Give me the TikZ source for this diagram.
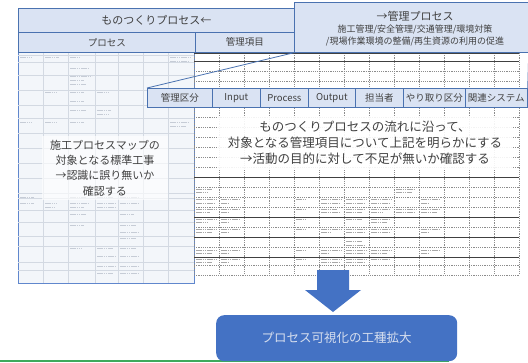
\documentclass[tikz,border=0pt]{standalone}
\usepackage{fontspec}
\setmainfont{Noto Sans CJK JP}
\definecolor{accent}{HTML}{4472C4}
\definecolor{hdrline}{HTML}{4A72B0}
\definecolor{hdrfill}{HTML}{DAE3F3}
\definecolor{panelfill}{HTML}{F3F6FA}
\definecolor{txt}{HTML}{404040}
\definecolor{gridc}{HTML}{8C8C8C}
\definecolor{faint}{HTML}{D3D9E2}
\definecolor{markc}{HTML}{C6CCD6}
\definecolor{markd}{HTML}{A8A8A8}
\definecolor{grn}{HTML}{3DAA5C}
\definecolor{goaltxt}{HTML}{D6DEEE}
\begin{document}
\begin{tikzpicture}[x=1pt,y=-1pt,
  hdr/.style={draw=hdrline, line width=0.7pt, fill=hdrfill, text=txt, inner sep=0pt,
    anchor=north west, font=\fontsize{9.5}{10}\selectfont},
  cell/.style={hdr, minimum height=19pt},
  faintline/.style={faint, line width=0.4pt},
  gridline/.style={gridc, dashed, dash pattern=on 1.2pt off 1pt, line width=0.4pt},
  gridsolid/.style={black!75, line width=0.5pt},
  leftmark/.style={markc, line width=0.8pt, dash pattern=on 1.6pt off 0.6pt},
  rightmark/.style={markd, line width=0.7pt, dash pattern=on 1.6pt off 0.6pt},
  note/.style={text=txt, align=center, inner sep=0pt},
  goalbox/.style={fill=accent, rounded corners=8pt, anchor=north west, text=goaltxt,
    font=\fontsize{12.5}{14}\selectfont},
  arrowshape/.style={fill=accent, draw=none}
]
\useasboundingbox (0,0) rectangle (528,362);

% ---------- left panel ----------
\node[fill=panelfill, draw=accent!85, line width=0.8pt, anchor=north west,
      minimum width=176pt, minimum height=275pt, inner sep=0pt] (lp) at (18,8) {};
\foreach \x in {43,68,95,118,143,168}
  \draw[faintline] (\x,52) -- (\x,283);
\foreach \y in {55,62,75,90,105,118,133,148,163,178,193,198,210,222,236,246,262,270}
  \draw[faintline] (18,\y) -- (194,\y);
\foreach \x/\y/\w in {20/57/12,45/57/14,70/57/10,170/57/20,170/61/18,70/68/18,70/76/22,
  70/80/14,70/84/16,45/92/12,70/92/14,97/92/12,70/101/14,70/110/16,97/110/14,97/114/12,
  20/122/12,45/122/12,70/122/14,170/122/18,170/126/16,20/203/14,45/203/12,70/203/18,
  97/203/18,120/203/18,45/207/10,70/207/14,97/207/18,70/214/16,120/214/14,70/225/14,
  120/225/16,120/232/18,120/238/16,70/248/12,97/248/16,120/248/16,97/256/18,120/256/18,
  97/266/18,120/266/18,97/273/16,120/273/18,20/197/14,70/197/16,97/197/16,120/197/18}
  \draw[leftmark] (\x,\y) -- ++(\w,0);

% ---------- right grid ----------
\foreach \x in {194,219,...,519}
  \draw[gridline] (\x,53) -- (\x,275);
\foreach \y in {71,81,117,127,137,147,157,167,187,197,207,227,247,265,275}
  \draw[gridline] (194,\y) -- (519,\y);
\foreach \y in {53,61,177,217,237,257}
  \draw[gridsolid] (194,\y) -- (519,\y);
\foreach \x/\y/\w in {196/189/16,196/192/12,196/199/20,196/203/18,221/199/18,221/203/8,
  196/209/20,196/212/14,221/209/18,221/212/8,196/219/20,196/222/12,221/219/18,221/222/8,
  196/229/20,196/232/16,221/229/18,221/232/8,196/250/20,196/253/16,221/250/18,221/253/8,
  196/259/20,196/262/16,221/259/18,221/262/8,
  296/199/10,296/209/10,296/219/10,296/229/10,296/250/10,296/259/10,
  321/199/20,321/203/18,321/209/16,321/212/18,321/229/20,321/232/10,321/250/20,321/253/8,
  321/259/20,321/262/18,
  346/199/20,346/203/18,346/209/18,346/212/16,346/219/16,346/229/20,346/232/18,346/241/16,
  346/245/18,346/250/20,346/253/18,346/259/20,346/262/18,
  371/199/20,371/203/18,371/209/18,371/212/12,371/219/18,371/222/16,371/229/20,371/232/18,
  371/250/20,371/253/16,371/259/18,
  396/189/18,396/192/16,396/209/20,396/212/18,
  421/199/18,421/203/8,421/209/18,421/212/16,421/229/18,421/232/8,421/250/18,421/253/8}
  \draw[rightmark] (\x,\y) -- ++(\w,0);

% ---------- headers ----------
\node[hdr, minimum width=276pt, minimum height=24pt, font=\fontsize{11}{12}\selectfont]
  (banner) at (18,8) {ものつくりプロセス←};
\node[hdr, minimum width=177pt, minimum height=20pt] (proc) at (18,32) {プロセス};
\node[hdr, minimum width=99pt, minimum height=20pt] (kanri) at (195,32) {管理項目};
\node[hdr, minimum width=234pt, minimum height=50pt] (mp) at (294,2) {};
\node[note, font=\fontsize{9}{12}\selectfont] (mptext) at (415,29)
  {{\fontsize{11}{14}\selectfont →管理プロセス}\\
   施工管理/安全管理/交通管理/環境対策\\
   /現場作業環境の整備/再生資源の利用の促進};

% ---------- header row of items ----------
\node[cell, minimum width=65pt] (c1) at (147,88) {管理区分};
\node[cell, minimum width=48pt] (c2) at (212,88) {Input};
\node[cell, minimum width=48pt] (c3) at (260,88) {Process};
\node[cell, minimum width=47pt] (c4) at (308,88) {Output};
\node[cell, minimum width=48pt] (c5) at (355,88) {担当者};
\node[cell, minimum width=62pt] (c6) at (403,88) {やり取り区分};
\node[cell, minimum width=62pt] (c7) at (465,88) {関連システム};
\draw[hdrline, line width=0.8pt] (c1.north west) -- (mp.south west);
\draw[hdrline, line width=0.8pt] (c7.north east) -- (mp.south east);

% ---------- notes ----------
\node[note, fill=white, fill opacity=0.9, text opacity=1, minimum width=296pt,
      minimum height=54pt, font=\fontsize{12.5}{16}\selectfont] (mid) at (365,143)
  {ものつくりプロセスの流れに沿って、\\
   対象となる管理項目について上記を明らかにする\\
   →活動の目的に対して不足が無いか確認する};
\node[note, fill=white, fill opacity=0.65, text opacity=1, minimum width=126pt,
      minimum height=64pt, font=\fontsize{11}{15.4}\selectfont] (left) at (105,168)
  {施工プロセスマップの\\
   対象となる標準工事\\
   →認識に誤り無いか\\
   確認する};

% ---------- bottom ----------
\draw[grn, line width=1.5pt] (0,361) -- (449,361);
\node[goalbox, minimum width=241pt, minimum height=46pt] (goal) at (216,315)
  {プロセス可視化の工種拡大};
\coordinate (tip) at (333,312);
\fill[arrowshape] (tip) -- ++(-28,-22) -- ++(12,0) -- ++(0,-20) -- ++(32,0)
  -- ++(0,20) -- ++(12,0) -- cycle;
\end{tikzpicture}
\end{document}
